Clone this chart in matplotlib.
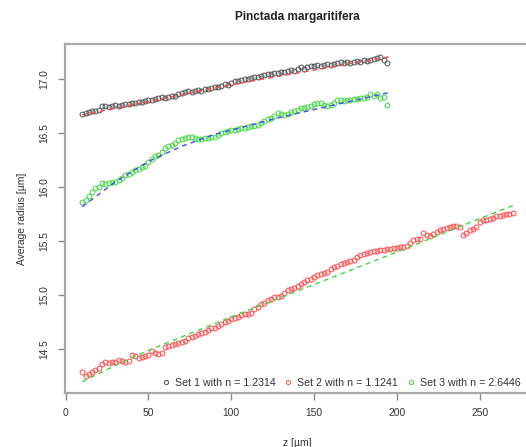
import numpy as np
import matplotlib
matplotlib.use("Agg")
import matplotlib.pyplot as plt

plt.rcParams['font.family'] = ['Liberation Sans', 'DejaVu Sans']

# sampling positions along z [um]
z_short = np.arange(10, 196, 2)   # sets 1 and 3
z_long = np.arange(10, 272, 2)    # set 2

set1 = [16.68, 16.69, 16.70, 16.71, 16.71, 16.72, 16.75, 16.75, 16.74, 16.75,
        16.76, 16.75, 16.76, 16.77, 16.77, 16.78, 16.78, 16.79, 16.79, 16.80,
        16.81, 16.81, 16.82, 16.83, 16.84, 16.83, 16.84, 16.85, 16.85, 16.86,
        16.87, 16.88, 16.89, 16.88, 16.89, 16.90, 16.89, 16.91, 16.91, 16.92,
        16.93, 16.93, 16.94, 16.96, 16.95, 16.97, 16.98, 16.98, 16.99, 17.00,
        17.00, 17.01, 17.02, 17.02, 17.03, 17.04, 17.05, 17.05, 17.06, 17.06,
        17.07, 17.07, 17.08, 17.09, 17.08, 17.10, 17.11, 17.10, 17.11, 17.12,
        17.12, 17.13, 17.12, 17.13, 17.14, 17.13, 17.14, 17.15, 17.16, 17.15,
        17.16, 17.15, 17.16, 17.17, 17.16, 17.18, 17.17, 17.18, 17.19, 17.20,
        17.21, 17.18, 17.15]

set3 = [15.86, 15.88, 15.92, 15.96, 15.99, 16.00, 16.04, 16.03, 16.04, 16.05,
        16.05, 16.07, 16.09, 16.11, 16.12, 16.14, 16.16, 16.17, 16.19, 16.20,
        16.23, 16.26, 16.29, 16.30, 16.33, 16.36, 16.38, 16.39, 16.41, 16.44,
        16.45, 16.46, 16.47, 16.47, 16.46, 16.45, 16.45, 16.46, 16.46, 16.47,
        16.47, 16.48, 16.50, 16.51, 16.52, 16.53, 16.53, 16.54, 16.55, 16.55,
        16.56, 16.57, 16.57, 16.58, 16.60, 16.61, 16.63, 16.64, 16.66, 16.69,
        16.68, 16.67, 16.68, 16.70, 16.71, 16.72, 16.73, 16.73, 16.74, 16.75,
        16.77, 16.78, 16.78, 16.76, 16.75, 16.76, 16.78, 16.81, 16.81, 16.80,
        16.81, 16.81, 16.82, 16.82, 16.83, 16.83, 16.84, 16.86, 16.85, 16.86,
        16.83, 16.84, 16.76]

set2 = [14.29, 14.25, 14.27, 14.29, 14.31, 14.33, 14.36, 14.38, 14.37, 14.38,
        14.38, 14.40, 14.39, 14.38, 14.39, 14.45, 14.44, 14.42, 14.43, 14.44,
        14.45, 14.48, 14.47, 14.46, 14.47, 14.52, 14.53, 14.54, 14.55, 14.56,
        14.57, 14.58, 14.60, 14.61, 14.62, 14.64, 14.65, 14.66, 14.68, 14.70,
        14.70, 14.72, 14.73, 14.75, 14.76, 14.78, 14.79, 14.80, 14.82, 14.83,
        14.83, 14.84, 14.87, 14.89, 14.92, 14.93, 14.96, 14.97, 14.98, 14.98,
        14.99, 15.02, 15.05, 15.06, 15.07, 15.09, 15.10, 15.12, 15.14, 15.15,
        15.17, 15.19, 15.20, 15.21, 15.22, 15.24, 15.26, 15.27, 15.29, 15.30,
        15.31, 15.32, 15.33, 15.35, 15.37, 15.38, 15.39, 15.40, 15.41, 15.41,
        15.42, 15.42, 15.43, 15.43, 15.44, 15.44, 15.45, 15.45, 15.46, 15.48,
        15.51, 15.52, 15.52, 15.58, 15.56, 15.55, 15.57, 15.59, 15.60, 15.61,
        15.62, 15.63, 15.64, 15.64, 15.63, 15.56, 15.58, 15.60, 15.61, 15.63,
        15.68, 15.70, 15.70, 15.71, 15.72, 15.73, 15.73, 15.74, 15.75, 15.75,
        15.76]

# fitted curves
fit1_z = [10, 100, 196]
fit1_r = [16.67, 16.95, 17.21]
fit3_z = [10, 30, 50, 70, 90, 110, 130, 150, 170, 196]
fit3_r = [15.82, 16.05, 16.24, 16.38, 16.49, 16.57, 16.65, 16.72, 16.79, 16.88]
fit2_z = [10, 30, 50, 100, 150, 200, 250, 270]
fit2_r = [14.20, 14.35, 14.49, 14.80, 15.10, 15.40, 15.71, 15.83]

labels = ["Set 1 with n = 1.2314", "Set 2 with n = 1.1241", "Set 3 with n = 2.6446"]
c_black, c_red, c_green, c_blue = '#505050', '#ff4a4a', '#3fd83f', '#4848ff'

fig = plt.figure(figsize=(5.26, 4.47), dpi=100)
ax = fig.add_axes([65 / 526, 54 / 447, 465 / 526, 349 / 447])

mk = dict(linestyle='none', marker='o', markersize=3.5, markerfacecolor='none',
          markeredgewidth=0.7)
ax.plot(z_short, set1, color=c_black, label=labels[0], **mk)
ax.plot(z_long, set2, color=c_red, label=labels[1], **mk)
ax.plot(z_short, set3, color=c_green, label=labels[2], **mk)

ds = (0, (3.5, 3))
ax.plot(fit1_z, fit1_r, color=c_red, lw=1, linestyle=ds)
ax.plot(fit3_z, fit3_r, color=c_blue, lw=1, linestyle=ds)
ax.plot(fit2_z, fit2_r, color=c_green, lw=1, linestyle=ds)

ax.set_xlim(-0.4, 280.4)
ax.set_ylim(14.095, 17.327)
ax.set_xticks([0, 50, 100, 150, 200, 250])
ax.set_yticks([14.5, 15.0, 15.5, 16.0, 16.5, 17.0])
ax.set_yticklabels(['14.5', '15.0', '15.5', '16.0', '16.5', '17.0'], rotation=90, va='center')
ax.tick_params(direction='out', length=5, width=1, labelsize=7.4, pad=6,
               colors='#8a8a8a', labelcolor='#333333')
for s in ax.spines.values():
    s.set_color('#a8a8a8')
    s.set_linewidth(1.6)

ax.set_title('Pinctada margaritifera', fontsize=8.5, fontweight='bold', pad=17,
             color='#222222')
ax.set_xlabel('z [µm]', fontsize=7.4, labelpad=14, color='#333333')
ax.set_ylabel('Average radius [µm]', fontsize=7.4, labelpad=9, color='#333333')

ax.legend(loc='lower right', bbox_to_anchor=(1.0, -0.012), ncol=3, frameon=False,
          fontsize=7.7, handletextpad=0.25, columnspacing=0.55, handlelength=1.2,
          markerscale=0.85, labelcolor='#333333')

fig.savefig('out.png', dpi=100)
